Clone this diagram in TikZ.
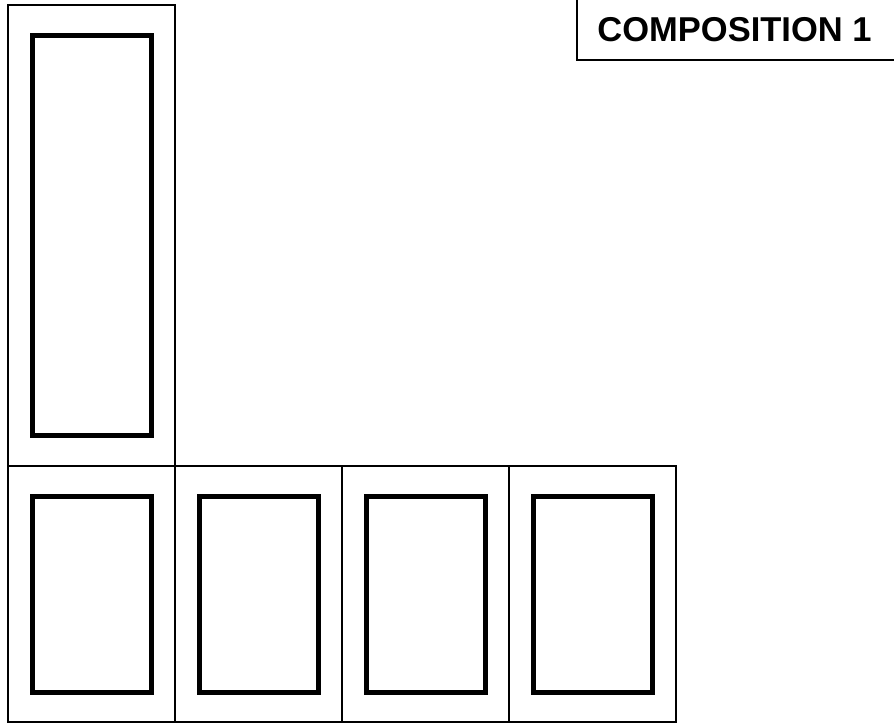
\documentclass[tikz,border=0pt]{standalone}
\usepackage{fontspec}
\newfontfamily\titlefont{Liberation Sans}
\usetikzlibrary{positioning}

\begin{document}
\begin{tikzpicture}[x=1pt, y=-1pt, node distance=0pt,
  panel/.style={draw, line width=1.3pt, minimum width=167pt, inner sep=0pt, outer sep=0pt},
  frame/.style={draw, line width=5pt, minimum width=119pt, inner sep=0pt}]
\useasboundingbox (0,0) rectangle (894,724);
% tall panel on the left
\node[panel, minimum height=461pt] (tall) at (91.5,235.5) {};
\node[frame, minimum height=400pt] (tallframe) at (tall) {};
% bottom row of four panels
\node[panel, minimum height=256pt, below=of tall] (p1) {};
\node[panel, minimum height=256pt, right=of p1] (p2) {};
\node[panel, minimum height=256pt, right=of p2] (p3) {};
\node[panel, minimum height=256pt, right=of p3] (p4) {};
\foreach \i in {1,...,4}
  \node[frame, minimum height=196pt] (f\i) at (p\i) {};
% title box
\node[font=\titlefont\bfseries\fontsize{34.5}{40}\selectfont] (title) at (734.5,29.5) {COMPOSITION 1};
\draw[line width=1.3pt] (577,-5) |- (900,60);
\end{tikzpicture}
\end{document}
